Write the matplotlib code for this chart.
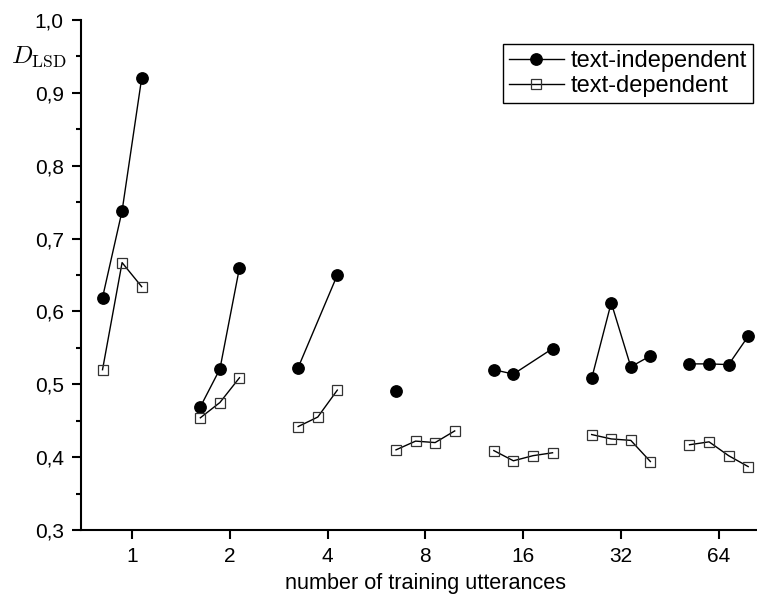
import numpy as np
import matplotlib.pyplot as plt
from matplotlib.ticker import MultipleLocator, FuncFormatter

plt.rcParams["font.family"] = ["Liberation Sans", "DejaVu Sans"]
plt.rcParams["mathtext.fontset"] = "cm"

categories = ["1", "2", "4", "8", "16", "32", "64"]
offsets = [-0.3, -0.1, 0.1, 0.3]
nan = np.nan

# D_LSD per group, one slot per offset position (nan = no measurement)
text_independent = [
    [0.619, 0.738, 0.920, nan],
    [0.469, 0.521, 0.660, nan],
    [0.523, nan, 0.650, nan],
    [0.491, nan, nan, nan],
    [0.520, 0.514, nan, 0.549],
    [0.508, 0.612, 0.524, 0.539],
    [0.528, 0.528, 0.527, 0.566],
]
text_dependent = [
    [0.520, 0.667, 0.634, nan],
    [0.454, 0.475, 0.509, nan],
    [0.442, 0.455, 0.492, nan],
    [0.410, 0.422, 0.420, 0.436],
    [0.409, 0.395, 0.402, 0.406],
    [0.431, 0.425, 0.423, 0.394],
    [0.417, 0.421, 0.402, 0.387],
]


def draw_groups(ax, values, label, **style):
    for i, row in enumerate(values):
        row = np.array(row)
        ok = ~np.isnan(row)
        xs = i + np.array(offsets)[ok]
        ax.plot(xs, row[ok], color="black", lw=1.0,
                label=label if i == 0 else None, **style)


fig = plt.figure(figsize=(7.57, 5.97), dpi=100)
ax = fig.add_axes([81 / 757, 67 / 597, 676 / 757, 510 / 597])

draw_groups(ax, text_independent, "text-independent",
            marker="o", markersize=8.2, markerfacecolor="black",
            markeredgecolor="black")
draw_groups(ax, text_dependent, "text-dependent",
            marker="s", markersize=6.6, markerfacecolor="none",
            markeredgecolor="#333333", markeredgewidth=0.9)

ax.set_xlim(-0.52, 6.39)
ax.set_ylim(0.3, 1.0)
ax.set_xticks(range(len(categories)))
ax.set_xticklabels(categories)
ax.yaxis.set_major_locator(MultipleLocator(0.1))
ax.yaxis.set_minor_locator(MultipleLocator(0.05))
ax.yaxis.set_major_formatter(FuncFormatter(lambda v, _: f"{v:.1f}".replace(".", ",")))

for side in ("top", "right"):
    ax.spines[side].set_visible(False)
for side in ("left", "bottom"):
    ax.spines[side].set_linewidth(1.5)

ax.tick_params(axis="both", which="major", direction="out", length=6.5,
               width=1.5, labelsize=15, pad=6)
ax.tick_params(axis="y", which="minor", direction="out", length=3.5, width=1.5)

ax.set_xlabel("number of training utterances", fontsize=15.6)
ax.xaxis.set_label_coords(0.51, -0.085)
ax.text(-0.021, 0.95, r"$D_{\mathrm{LSD}}$", transform=ax.get_yaxis_transform(),
        ha="right", va="center", fontsize=18)

leg = ax.legend(loc="upper right", bbox_to_anchor=(753 / 757, 1 - 44 / 597),
                bbox_transform=fig.transFigure, fontsize=17, frameon=True,
                fancybox=False, edgecolor="black", framealpha=1,
                handlelength=2.3, handletextpad=0.3, labelspacing=0.15,
                borderpad=0.25, borderaxespad=0)
leg.get_frame().set_linewidth(1.0)

fig.savefig("out.png", dpi=100)
